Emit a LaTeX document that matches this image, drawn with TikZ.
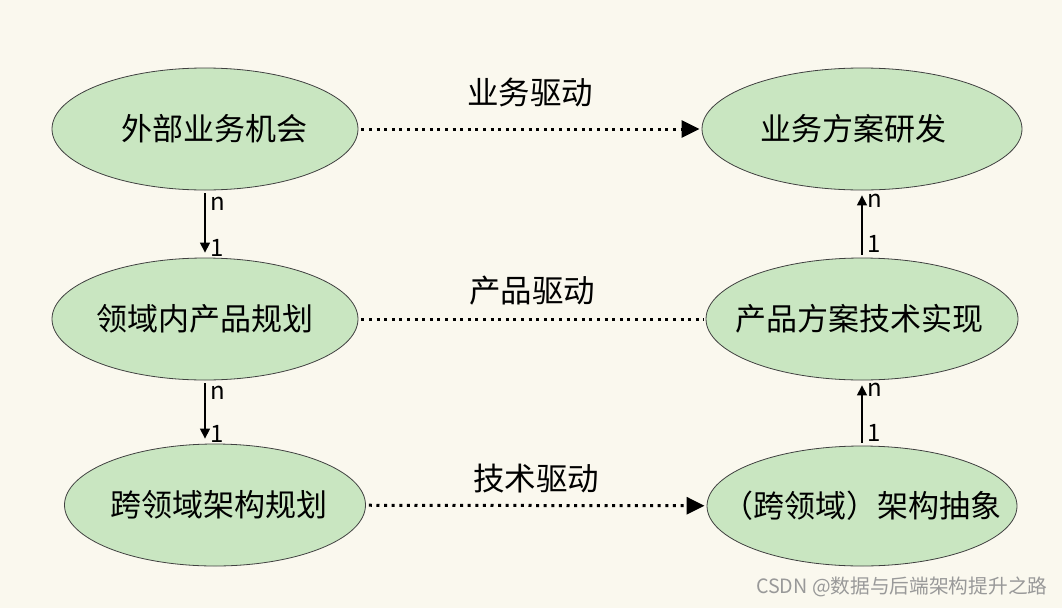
\documentclass[tikz,border=0pt]{standalone}
\usepackage{fontspec}
\setmainfont{Noto Sans CJK SC}
\usetikzlibrary{arrows.meta, shapes.geometric}
\definecolor{paper}{HTML}{FAF8EE}
\definecolor{leaf}{HTML}{C9E6C1}
\tikzstyle{goal}=[ellipse, draw=black!75, fill=leaf, line width=0.8pt, inner ysep=0pt, inner xsep=-40pt,
  minimum width=306pt, minimum height=122pt, font=\fontsize{31}{36}\selectfont]
\tikzstyle{drive}=[line width=3pt, dash pattern=on 3pt off 4.6pt, shorten <=3pt, shorten >=2pt]
\tikzstyle{drivetip}=[-{Triangle[length=18pt,width=17pt]}]
\tikzstyle{drivetext}=[midway, font=\fontsize{31.5}{36}\selectfont]
\tikzstyle{card}=[line width=1.3pt, shorten <=3pt, shorten >=5pt, -{Triangle[length=10pt,width=10pt]}]
\tikzstyle{cardtext}=[font=\fontsize{24}{28}\selectfont, anchor=west, xshift=2pt]

\begin{document}
\begin{tikzpicture}[x=1pt, y=-1pt]
  \useasboundingbox[fill=paper] (0,0) rectangle (1062,608);
  \node[goal]                       (chance) at (205,129) {\hspace*{18pt}外部业务机会};
  \node[goal, minimum width=320pt]  (rd)     at (862,129) {业务方案研发\hspace*{18pt}};
  \node[goal]                       (plan)   at (205,319) {领域内产品规划};
  \node[goal, minimum width=312pt]  (impl)   at (862,319) {产品方案技术实现\hspace*{6pt}};
  \node[goal, minimum width=301pt]  (arch)   at (215,505) {\hspace*{7pt}跨领域架构规划};
  \node[goal, minimum width=310pt, minimum height=120pt]
                                    (abs)    at (862,506) {（跨领域）架构抽象};

  % driving relations
  \draw[drive, drivetip] (chance) -- node[drivetext, yshift=37pt] {业务驱动} (rd);
  \draw[drive]           (plan)   -- node[drivetext, yshift=28pt] {产品驱动} (impl);
  \draw[drive, drivetip] (arch)   -- node[drivetext, yshift=27pt] {技术驱动} (abs);

  % n : 1
  \draw[card] (chance) -- node[cardtext, pos=0.2] {n} node[cardtext, pos=0.85] {1} (plan);
  \draw[card] (plan) -- node[cardtext, pos=0.2] {n} node[cardtext, pos=0.85] {1} (arch.north -| plan.south);
  \draw[card] (impl) -- node[cardtext, pos=0.85] {n} node[cardtext, pos=0.2] {1} (rd);
  \draw[card] (abs) -- node[cardtext, pos=0.85] {n} node[cardtext, pos=0.2] {1} (impl);

  \node[text=black!40, font=\fontsize{19.7}{24}\selectfont, anchor=east] (mark) at (1051,587)
    {CSDN @数据与后端架构提升之路};
\end{tikzpicture}
\end{document}
